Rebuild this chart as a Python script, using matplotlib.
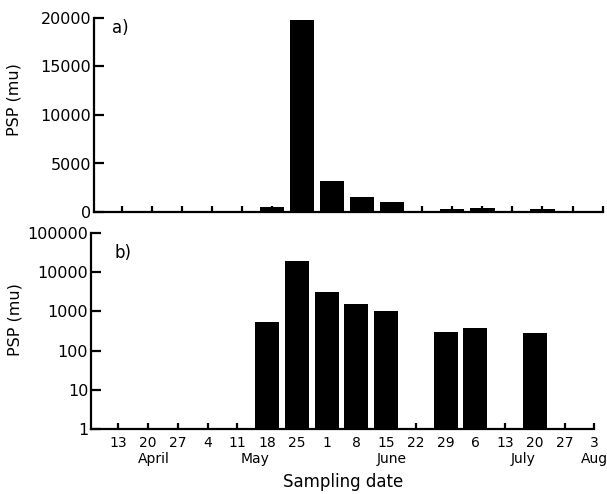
import matplotlib
matplotlib.use("Agg")
import matplotlib.pyplot as plt
from matplotlib.ticker import NullLocator

# Data
dates = ["13", "20", "27", "4", "11", "18", "25", "1", "8", "15", "22",
         "29", "6", "13", "20", "27", "3"]
psp = [0, 0, 0, 0, 0, 525, 19800, 3150, 1550, 1040, 0, 290, 370, 0, 280, 0, 0]
months = ["April", "May", "June", "July", "Aug"]
month_pos = [1.2, 4.6, 9.2, 13.6, 16.0]
lin_ticks = [0, 5000, 10000, 15000, 20000]
log_ticks = [1, 10, 100, 1000, 10000, 100000]
log_labels = ["1", "10", "100", "1000", "10000", "100000"]

W, H = 607, 494
fig = plt.figure(figsize=(W / 100, H / 100), dpi=100)
plt.rcParams['font.family'] = ['DejaVu Sans']

x = list(range(len(dates)))
xlim = (-0.92, 16.0)
bw = 0.81
lw = 1.6

def style(ax):
    for s in ("top", "right"):
        ax.spines[s].set_visible(False)
    for s in ("left", "bottom"):
        ax.spines[s].set_linewidth(lw)
    ax.tick_params(axis="x", direction="in", length=4, width=lw)
    ax.tick_params(axis="y", direction="in", length=7, width=lw, labelsize=11.5, pad=2)
    ax.set_xlim(*xlim)
    ax.set_xticks(x)

# Top panel (linear)
ax1 = fig.add_axes([94 / W, 1 - 212 / H, 508.6 / W, 194 / H])
xs = [xi for xi, v in zip(x, psp) if v > 0]
vs = [v for v in psp if v > 0]
ax1.bar(xs, vs, width=bw, color="black", edgecolor="none")
ax1.set_ylim(0, 20000)
ax1.set_yticks(lin_ticks)
style(ax1)
ax1.set_xticklabels([])
ax1.set_ylabel("PSP (mu)", fontsize=11.5)
ax1.yaxis.set_label_coords(-0.1416, 0.577)
ax1.text(0.052, 0.95, "a)", transform=ax1.transAxes, fontsize=12, va="center", ha="center")

# Bottom panel (log)
ax2 = fig.add_axes([91 / W, 1 - 429 / H, 503.4 / W, 196 / H])
ax2.set_yscale("log")
ax2.bar(xs, vs, width=bw, color="black", edgecolor="none", bottom=0)
ax2.set_ylim(1, 100000)
ax2.set_yticks(log_ticks)
ax2.set_yticklabels(log_labels)
ax2.yaxis.set_minor_locator(NullLocator())
style(ax2)
ax2.set_xticklabels(dates, fontsize=10)
ax2.tick_params(axis="x", pad=5)
ax2.set_ylabel("PSP (mu)", fontsize=11.5)
ax2.yaxis.set_label_coords(-0.137, 0.56)
for m, p in zip(months, month_pos):
    ax2.text(p, -0.155, m, transform=ax2.get_xaxis_transform(), fontsize=10,
             ha="center", va="center")
ax2.text(0.5, -0.27, "Sampling date", transform=ax2.transAxes, fontsize=12,
         ha="center", va="center")
ax2.text(0.064, 0.9, "b)", transform=ax2.transAxes, fontsize=12, va="center", ha="center")

fig.savefig("out.png", dpi=100)
